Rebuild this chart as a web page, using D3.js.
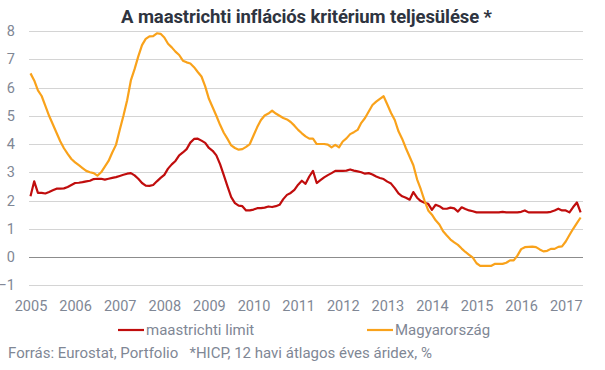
<!DOCTYPE html>
<html>
<head>
<meta charset="utf-8">
<script src="https://cdn.jsdelivr.net/npm/d3@7"></script>
<style>
  body { margin: 0; background: #fff; }
  svg { display: block; font-family: Roboto, "Liberation Sans", sans-serif; }
</style>
</head>
<body>
<svg id="chart" width="605" height="370"></svg>
<script>
// years on the x axis (first month of each year)
const years = [2005, 2006, 2007, 2008, 2009, 2010, 2011, 2012, 2013, 2014, 2015, 2016, 2017];
const yTicks = [-1, 0, 1, 2, 3, 4, 5, 6, 7, 8];

// monthly values, 2005 jan - 2017 may
const maastrichtiLimit = [
  2.15, 2.68, 2.27, 2.27, 2.25, 2.3, 2.36, 2.42, 2.42, 2.43, 2.48, 2.55,
  2.62, 2.63, 2.65, 2.68, 2.7, 2.76, 2.77, 2.77, 2.74, 2.77, 2.8, 2.83,
  2.87, 2.91, 2.95, 2.97, 2.89, 2.77, 2.62, 2.53, 2.52, 2.55, 2.68, 2.8,
  2.91, 3.13, 3.28, 3.4, 3.6, 3.7, 3.82, 4.05, 4.18, 4.19, 4.12, 4.04,
  3.86, 3.76, 3.6, 3.29, 2.9, 2.5, 2.12, 1.91, 1.82, 1.8, 1.65, 1.65,
  1.68, 1.73, 1.73, 1.75, 1.79, 1.77, 1.8, 1.85, 2.05, 2.2, 2.27, 2.38,
  2.56, 2.7, 2.59, 2.85, 3.05, 2.62, 2.72, 2.82, 2.9, 2.97, 3.05, 3.05,
  3.05, 3.06, 3.1, 3.06, 3.03, 3.0, 2.95, 2.97, 2.92, 2.85, 2.8, 2.76,
  2.67, 2.6, 2.44, 2.25, 2.15, 2.1, 2.03, 2.3, 2.1, 1.98, 1.92, 1.88,
  1.67, 1.85, 1.8, 1.71, 1.71, 1.75, 1.72, 1.61, 1.76, 1.7, 1.65, 1.62,
  1.58, 1.58, 1.58, 1.58, 1.58, 1.58, 1.58, 1.6, 1.58, 1.58, 1.58, 1.58,
  1.6, 1.65, 1.58, 1.58, 1.58, 1.58, 1.58, 1.58, 1.6, 1.65, 1.71, 1.65,
  1.65, 1.58, 1.77, 1.93, 1.58
];
const magyarorszag = [
  6.5, 6.25, 5.9, 5.7, 5.35, 5.0, 4.7, 4.4, 4.1, 3.85, 3.65, 3.47,
  3.35, 3.25, 3.15, 3.05, 3.0, 2.97, 2.88, 3.0, 3.2, 3.4, 3.7, 3.97,
  4.5, 5.0, 5.55, 6.25, 6.65, 7.1, 7.5, 7.72, 7.81, 7.82, 7.92, 7.9,
  7.77, 7.55, 7.42, 7.27, 7.15, 6.95, 6.89, 6.85, 6.72, 6.55, 6.39, 6.04,
  5.6, 5.3, 5.0, 4.68, 4.4, 4.18, 3.95, 3.86, 3.8, 3.82, 3.9, 4.0,
  4.3, 4.6, 4.85, 5.01, 5.08, 5.18, 5.08, 5.0, 4.92, 4.87, 4.78, 4.65,
  4.5, 4.38, 4.27, 4.19, 4.19, 4.0, 4.0, 4.0, 3.98, 3.88, 3.97, 3.88,
  4.09, 4.2, 4.35, 4.42, 4.5, 4.75, 4.92, 5.15, 5.38, 5.5, 5.6, 5.69,
  5.4, 5.1, 4.85, 4.45, 4.18, 3.85, 3.55, 3.25, 2.75, 2.4, 2.0, 1.65,
  1.5, 1.3, 1.15, 0.91, 0.76, 0.62, 0.52, 0.43, 0.3, 0.18, 0.08, -0.02,
  -0.22, -0.31, -0.31, -0.31, -0.31, -0.24, -0.24, -0.24, -0.2, -0.12, -0.12, 0.05,
  0.28, 0.35, 0.36, 0.37, 0.35, 0.27, 0.2, 0.22, 0.29, 0.29, 0.36, 0.38,
  0.55, 0.78, 1.0, 1.2, 1.4
];

const svg = d3.select("#chart");
const margin = { left: 29, right: 22, top: 31, bottom: 85 };
const plotBottom = margin.top + 254.3;

const x = d3.scaleLinear().domain([0, 149.2]).range([margin.left + 1.5, margin.left + 1.5 + 149.2 * 3.717]);
const y = d3.scaleLinear().domain([-1, 8]).range([plotBottom, margin.top]);

// title
svg.append("text")
  .attr("x", 306.5)
  .attr("y", 23)
  .attr("text-anchor", "middle")
  .attr("font-size", 18.5)
  .attr("font-weight", "bold")
  .attr("fill", "#2e3440")
  .attr("letter-spacing", -0.1)
  .text("A maastrichti inflációs kritérium teljesülése *");

// gridlines
svg.append("g")
  .selectAll("line")
  .data(yTicks)
  .join("line")
  .attr("x1", margin.left)
  .attr("x2", 583)
  .attr("y1", d => Math.round(y(d)) + 0.5)
  .attr("y2", d => Math.round(y(d)) + 0.5)
  .attr("stroke", d => d === 0 ? "#8c8c8c" : "#d4d4d4")
  .attr("stroke-width", 1);

// y labels
const yAxis = svg.append("g")
  .attr("transform", "translate(15,0)")
  .call(d3.axisLeft(y).tickValues(yTicks).tickSize(0).tickPadding(0).tickFormat(d3.format("d")));
yAxis.select(".domain").remove();
yAxis.selectAll("text")
  .attr("font-size", 14.5)
  .attr("fill", "#7f8795")
  .attr("font-family", "Roboto, sans-serif");

// x labels
const xAxis = svg.append("g")
  .attr("transform", "translate(0," + (plotBottom + 15) + ")")
  .call(d3.axisBottom(x).tickValues(years.map((yr, i) => i * 12)).tickSize(0).tickPadding(0)
    .tickFormat((d, i) => years[i]));
xAxis.select(".domain").remove();
xAxis.selectAll("text")
  .attr("font-size", 14.5)
  .attr("fill", "#7f8795")
  .attr("font-family", "Roboto, sans-serif");

// lines
const line = d3.line()
  .x((d, i) => x(i))
  .y(d => y(d));

svg.append("path")
  .datum(maastrichtiLimit)
  .attr("fill", "none")
  .attr("stroke", "#c00d0d")
  .attr("stroke-width", 2.2)
  .attr("stroke-linejoin", "round")
  .attr("d", line);

svg.append("path")
  .datum(magyarorszag)
  .attr("fill", "none")
  .attr("stroke", "#f9a21b")
  .attr("stroke-width", 2.2)
  .attr("stroke-linejoin", "round")
  .attr("d", line);

// legend
const legend = [
  { name: "maastrichti limit", color: "#c00d0d", x: 118 },
  { name: "Magyarország", color: "#f9a21b", x: 367 }
];
const lg = svg.append("g").selectAll("g").data(legend).join("g")
  .attr("transform", d => "translate(" + d.x + ",330)");
lg.append("line")
  .attr("x1", 0).attr("x2", 26)
  .attr("stroke", d => d.color)
  .attr("stroke-width", 2.2);
lg.append("text")
  .attr("x", 28)
  .attr("dy", "0.35em")
  .attr("font-size", 15)
  .attr("fill", "#7f8795")
  .text(d => d.name);

// footer
svg.append("text")
  .attr("x", 8)
  .attr("y", 358)
  .attr("font-size", 15)
  .attr("fill", "#7f8795")
  .attr("xml:space", "preserve")
  .text("Forrás: Eurostat, Portfolio   *HICP, 12 havi átlagos éves áridex, %");
</script>
</body>
</html>
